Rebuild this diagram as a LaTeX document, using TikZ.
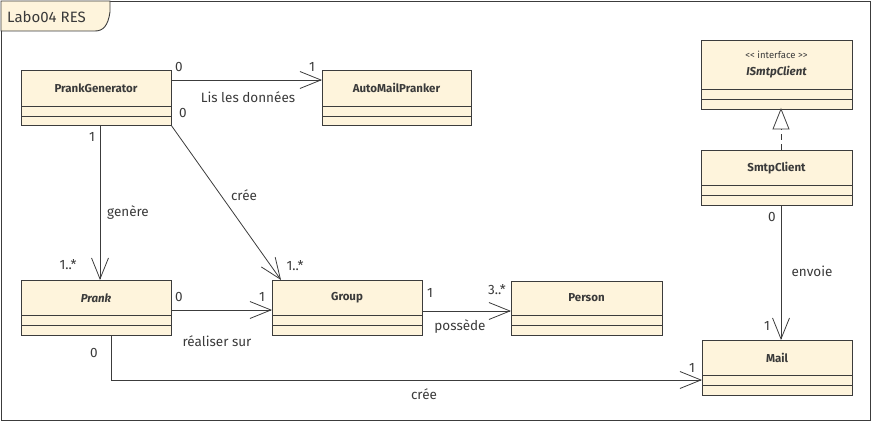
\documentclass[tikz,border=0pt]{standalone}
\usepackage{fontspec}
\setmainfont{Fira Sans}
\usetikzlibrary{arrows.meta}
\definecolor{clsfill}{HTML}{FEF4DC}
\definecolor{clsline}{HTML}{3C3C3C}
\definecolor{txt}{HTML}{3A3A3A}
\begin{document}
\begin{tikzpicture}[x=1pt,y=-1pt,
  cls/.style={draw=clsline,fill=clsfill,line width=0.9pt},
  sep/.style={draw=clsline,line width=0.9pt},
  cname/.style={font=\fontsize{11.5}{14}\selectfont\bfseries,text=txt,inner sep=0pt},
  cnamei/.style={font=\fontsize{11.5}{14}\selectfont\bfseries\itshape,text=txt,inner sep=0pt},
  lbl/.style={font=\fontsize{13.5}{15}\selectfont,text=txt,inner sep=0pt},
  assoc/.style={draw=clsline,line width=0.8pt,-{Straight Barb[length=21pt,width=17pt,line width=0.8pt]}},
  real/.style={draw=clsline,line width=0.8pt,dash pattern=on 6pt off 4pt},
  tri/.style={draw=clsline,fill=white,line width=0.8pt}
]
\useasboundingbox (0,0) rectangle (872,422);
% frame
\draw[clsline,line width=0.9pt] (1,1) rectangle (870,420);
\draw[cls] (1,1) -- (110,1) -- (110,12) .. controls (108,26) and (103,31) .. (95,31) -- (1,31) -- cycle;
\node[font=\fontsize{15}{17}\selectfont,text=txt,anchor=west,inner sep=0pt] (title) at (7,17) {Labo04 RES};
% PrankGenerator
\draw[cls] (21,70) rectangle (171,125);
\draw[sep] (21,106) -- (171,106); \draw[sep] (21,116) -- (171,116);
\node[cname] (pgT) at (96,88) {PrankGenerator};
\coordinate (pgR) at (171,80);
\coordinate (pgB) at (100,125);
\coordinate (pgC) at (171,125);
% AutoMailPranker
\draw[cls] (322,70) rectangle (471,125);
\draw[sep] (322,106) -- (471,106); \draw[sep] (322,116) -- (471,116);
\node[cname] (amT) at (396.5,88) {AutoMailPranker};
\coordinate (amL) at (322,80);
% ISmtpClient
\draw[cls] (701,40) rectangle (852,109);
\draw[sep] (701,89) -- (852,89); \draw[sep] (701,99) -- (852,99);
\node[font=\fontsize{9.5}{11}\selectfont,text=txt,inner sep=0pt] (isS) at (776.5,55) {{<}{<} interface {>}{>}};
\node[cnamei] (isT) at (776.5,72) {ISmtpClient};
\coordinate (isB) at (781,109);
% SmtpClient
\draw[cls] (701,150) rectangle (852,205);
\draw[sep] (701,185) -- (852,185); \draw[sep] (701,195) -- (852,195);
\node[cname] (scT) at (776.5,168) {SmtpClient};
\coordinate (scT2) at (781,150);
\coordinate (scB) at (781,205);
% Prank
\draw[cls] (21,280) rectangle (171,335);
\draw[sep] (21,315) -- (171,315); \draw[sep] (21,325) -- (171,325);
\node[cnamei] (prT) at (96,298) {Prank};
\coordinate (prTop) at (100,280);
\coordinate (prR) at (171,310);
\coordinate (prB) at (111,335);
% Group
\draw[cls] (272,280) rectangle (422,335);
\draw[sep] (272,315) -- (422,315); \draw[sep] (272,325) -- (422,325);
\node[cname] (grT) at (347,298) {Group};
\coordinate (grL) at (272,310);
\coordinate (grR) at (422,311);
\coordinate (grTop) at (281,280);
% Person
\draw[cls] (511,281) rectangle (662,335);
\draw[sep] (511,315) -- (662,315); \draw[sep] (511,325) -- (662,325);
\node[cname] (peT) at (586.5,298) {Person};
\coordinate (peL) at (511,311);
% Mail
\draw[cls] (702,340) rectangle (852,395);
\draw[sep] (702,375) -- (852,375); \draw[sep] (702,385) -- (852,385);
\node[cname] (maT) at (777,358) {Mail};
\coordinate (maT2) at (781,340);
\coordinate (maL) at (702,380);
% connectors
\draw[assoc] (pgR) -- (amL);
\node[lbl] at (179,67) {0};
\node[lbl] at (312,67) {1};
\node[lbl] at (248,97) {Lis les données};
\draw[assoc] (pgB) -- (prTop);
\node[lbl] at (92,137) {1};
\node[lbl] at (128,213) {genère};
\node[lbl] at (68,265) {1..*};
\draw[assoc] (pgC) -- (grTop);
\node[lbl] at (183,113) {0};
\node[lbl] at (244,195) {crée};
\node[lbl] at (295,266) {1..*};
\draw[assoc] (prR) -- (grL);
\node[lbl] at (179,297) {0};
\node[lbl] at (262,297) {1};
\node[lbl] at (217,341) {réaliser sur};
\draw[assoc] (grR) -- (peL);
\node[lbl] at (430,293) {1};
\node[lbl] at (497,290) {3..*};
\node[lbl] at (460,327) {possède};
\draw[assoc] (prB) |- (maL);
\node[lbl] at (94,353) {0};
\node[lbl] at (424,394) {crée};
\node[lbl] at (692,368) {1};
\draw[assoc] (scB) -- (maT2);
\node[lbl] at (772,217) {0};
\node[lbl] at (812,271) {envoie};
\node[lbl] at (767,326) {1};
% realization
\coordinate (triB) at (781,129);
\draw[real] (scT2) -- (triB);
\draw[tri] (isB) -- (773,129) -- (789,129) -- cycle;
\end{tikzpicture}
\end{document}
